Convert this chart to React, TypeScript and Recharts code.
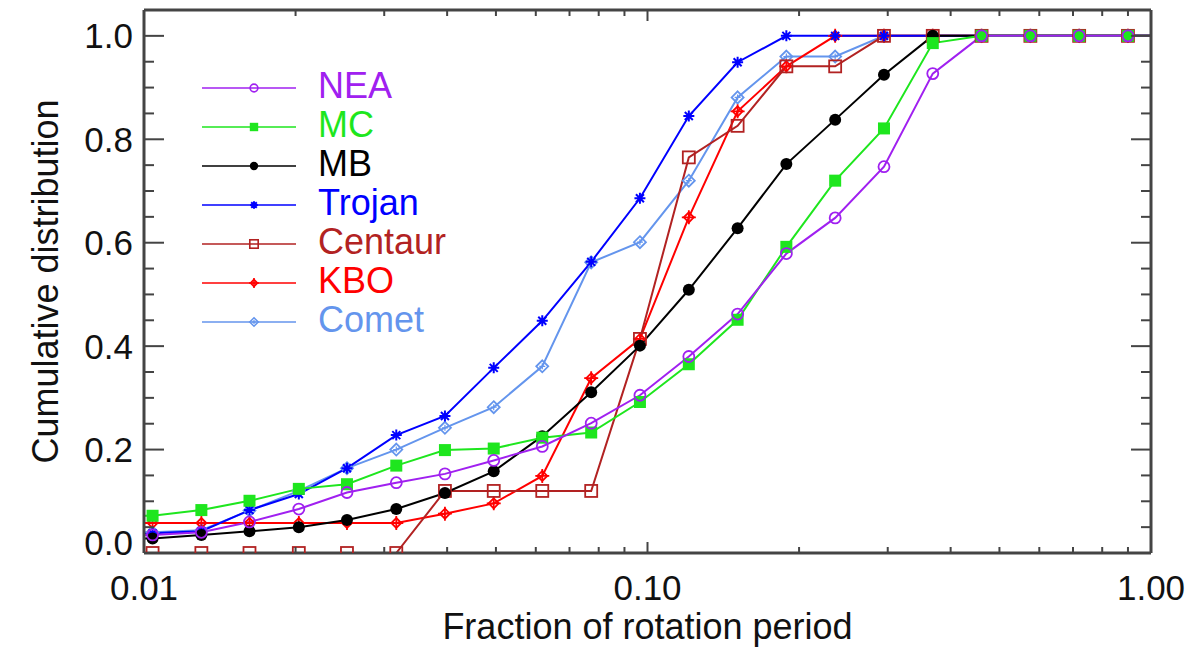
import { LineChart, Line, XAxis, YAxis, Legend } from "recharts";

// bin centres of the rotation-period fraction (first and last fall just outside the frame)
const PERIOD_FRACTION = [
  0.0083, 0.0104, 0.013, 0.0162, 0.0203, 0.0253, 0.0317, 0.0396, 0.0495, 0.0618, 0.0773, 0.0966,
  0.1208, 0.151, 0.1887, 0.2359, 0.2949, 0.3686, 0.4608, 0.576, 0.72, 0.9, 1.125,
];

const NEA = [
  0.035, 0.035, 0.04, 0.06, 0.085, 0.117, 0.136, 0.153, 0.179, 0.206, 0.251, 0.305, 0.38, 0.462,
  0.579, 0.648, 0.747, 0.927, 1, 1, 1, 1, 1,
];
const MC = [
  0.072, 0.072, 0.083, 0.101, 0.124, 0.133, 0.169, 0.199, 0.202, 0.223, 0.233, 0.292, 0.365, 0.451,
  0.592, 0.72, 0.821, 0.986, 1, 1, 1, 1, 1,
];
const MB = [
  0.028, 0.028, 0.035, 0.042, 0.05, 0.064, 0.085, 0.116, 0.158, 0.226, 0.311, 0.401, 0.509, 0.628,
  0.752, 0.838, 0.925, 1, 1, 1, 1, 1, 1,
];
const TROJAN = [
  0.038, 0.038, 0.042, 0.083, 0.114, 0.164, 0.228, 0.265, 0.358, 0.449, 0.563, 0.686, 0.845, 0.949,
  1, 1, 1, 1, 1, 1, 1, 1, 1,
];
const CENTAUR = [
  0, 0, 0, 0, 0, 0, 0, 0.12, 0.12, 0.12, 0.12, 0.414, 0.765, 0.826, 0.941, 0.941, 1, 1, 1, 1, 1, 1, 1,
];
const KBO = [
  0.058, 0.058, 0.058, 0.058, 0.058, 0.058, 0.058, 0.076, 0.096, 0.149, 0.338, 0.414, 0.649, 0.854,
  0.941, 1, 1, 1, 1, 1, 1, 1, 1,
];
const COMET = [
  0.04, 0.04, 0.044, 0.082, 0.12, 0.164, 0.2, 0.242, 0.282, 0.361, 0.562, 0.601, 0.72, 0.881, 0.96,
  0.96, 1, 1, 1, 1, 1, 1, 1,
];

const X_TICKS = [
  0.01, 0.02, 0.03, 0.04, 0.05, 0.06, 0.07, 0.08, 0.09, 0.1, 0.2, 0.3, 0.4, 0.5, 0.6, 0.7, 0.8, 0.9, 1,
];
const X_LABELS = [
  { v: 0.01, t: "0.01" },
  { v: 0.1, t: "0.10" },
  { v: 1, t: "1.00" },
];
const Y_TICKS = [
  0, 0.05, 0.1, 0.15, 0.2, 0.25, 0.3, 0.35, 0.4, 0.45, 0.5, 0.55, 0.6, 0.65, 0.7, 0.75, 0.8, 0.85, 0.9,
  0.95, 1,
];
const Y_LABELS = [
  { v: 0, t: "0.0" },
  { v: 0.2, t: "0.2" },
  { v: 0.4, t: "0.4" },
  { v: 0.6, t: "0.6" },
  { v: 0.8, t: "0.8" },
  { v: 1, t: "1.0" },
];

const SERIES = [
  { key: "NEA", values: NEA, color: "#a020f0", marker: "openCircle" },
  { key: "MC", values: MC, color: "#1ee61e", marker: "square" },
  { key: "MB", values: MB, color: "#000000", marker: "dot" },
  { key: "Trojan", values: TROJAN, color: "#0000ff", marker: "star" },
  { key: "Centaur", values: CENTAUR, color: "#b22222", marker: "openSquare" },
  { key: "KBO", values: KBO, color: "#ff0000", marker: "starDiamond" },
  { key: "Comet", values: COMET, color: "#6495ed", marker: "diamond" },
];

const chartData = PERIOD_FRACTION.map((x, i) => {
  const row: Record<string, number> = { x };
  SERIES.forEach((s) => {
    row[s.key] = s.values[i];
  });
  return row;
});

const FONT = "'Liberation Sans', Arial, Helvetica, sans-serif";
const AXIS = "#444";

const labelFor = (list: { v: number; t: string }[], v: number) =>
  list.find((l) => Math.abs(l.v - v) < 1e-9)?.t;

function Marker({ shape, color, cx, cy, s = 1 }: any) {
  const sw = 1.8 * Math.min(1, s + 0.2);
  switch (shape) {
    case "openCircle":
      return <circle cx={cx} cy={cy} r={5.5 * s} fill="none" stroke={color} strokeWidth={sw} />;
    case "square":
      return <rect x={cx - 6 * s} y={cy - 6 * s} width={12 * s} height={12 * s} fill={color} />;
    case "dot":
      return <circle cx={cx} cy={cy} r={6 * s} fill={color} />;
    case "openSquare":
      return (
        <rect x={cx - 6 * s} y={cy - 6 * s} width={12 * s} height={12 * s} fill="none" stroke={color} strokeWidth={sw} />
      );
    case "star": {
      const a = 5.5 * s;
      const b = 4 * s;
      return (
        <path
          d={`M${cx - a},${cy}L${cx + a},${cy}M${cx},${cy - a}L${cx},${cy + a}M${cx - b},${cy - b}L${cx + b},${cy + b}M${cx - b},${cy + b}L${cx + b},${cy - b}`}
          stroke={color}
          strokeWidth={2}
        />
      );
    }
    case "starDiamond": {
      const a = 5 * s;
      const p = 7 * s;
      return (
        <g>
          <path d={`M${cx},${cy - a}L${cx + a},${cy}L${cx},${cy + a}L${cx - a},${cy}Z`} fill="none" stroke={color} strokeWidth={sw} />
          <path d={`M${cx - p},${cy}L${cx + p},${cy}M${cx},${cy - p}L${cx},${cy + p}`} stroke={color} strokeWidth={sw} />
        </g>
      );
    }
    case "diamond": {
      const a = 6 * s;
      const p = 3 * s;
      return (
        <g>
          <path d={`M${cx},${cy - a}L${cx + a},${cy}L${cx},${cy + a}L${cx - a},${cy}Z`} fill="none" stroke={color} strokeWidth={sw} />
          <path d={`M${cx - p},${cy}L${cx + p},${cy}M${cx},${cy - p}L${cx},${cy + p}`} stroke={color} strokeWidth={1.2} />
        </g>
      );
    }
    default:
      return null;
  }
}

const makeDot = (shape: string, color: string) => (props: any) => {
  const { cx, cy, payload, index } = props;
  if (cx == null || cy == null || payload.x < 0.01 || payload.x > 1) return <g key={index} />;
  return (
    <g key={index}>
      <Marker shape={shape} color={color} cx={cx} cy={cy} />
    </g>
  );
};

const BottomTick = ({ x, y, payload }: any) => {
  const label = labelFor(X_LABELS, payload.value);
  return (
    <g>
      <line x1={x} y1={y} x2={x} y2={y - (label ? 11 : 6)} stroke={AXIS} strokeWidth={2} />
      {label && (
        <text x={x} y={y + 47} textAnchor="middle" fontSize={35} fontFamily={FONT} fill="#111">
          {label}
        </text>
      )}
    </g>
  );
};

const TopTick = ({ x, y, payload }: any) => {
  const label = labelFor(X_LABELS, payload.value);
  return <line x1={x} y1={y} x2={x} y2={y + (label ? 11 : 6)} stroke={AXIS} strokeWidth={2} />;
};

const LeftTick = ({ x, y, payload }: any) => {
  const label = labelFor(Y_LABELS, payload.value);
  return (
    <g>
      <line x1={x} y1={y} x2={x + (label ? 20 : 10)} y2={y} stroke={AXIS} strokeWidth={2} />
      {label && (
        <text
          x={x - 11}
          y={payload.value === 0 ? y + 2 : y + 12.5}
          textAnchor="end"
          fontSize={35}
          fontFamily={FONT}
          fill="#111"
        >
          {label}
        </text>
      )}
    </g>
  );
};

const RightTick = ({ x, y, payload }: any) => {
  const label = labelFor(Y_LABELS, payload.value);
  return <line x1={x} y1={y} x2={x - (label ? 20 : 10)} y2={y} stroke={AXIS} strokeWidth={2} />;
};

function LegendBox() {
  return (
    <svg width={300} height={310} style={{ display: "block", overflow: "visible" }}>
      {SERIES.map((s, i) => {
        const y = 35 + i * 39;
        return (
          <g key={s.key}>
            <line x1={0} y1={y} x2={94} y2={y} stroke={s.color} strokeWidth={1.6} />
            <Marker shape={s.marker} color={s.color} cx={52} cy={y} s={0.7} />
            <text x={116} y={y + 9.5} fontSize={36} fontFamily={FONT} fill={s.color}>
              {s.key}
            </text>
          </g>
        );
      })}
    </svg>
  );
}

export default function App() {
  return (
    <div style={{ width: 1192, height: 649, background: "#fff" }}>
      <LineChart width={1192} height={649} data={chartData} margin={{ top: 0, right: 0, bottom: 0, left: 0 }}>
        <XAxis
          dataKey="x"
          type="number"
          scale="log"
          domain={[0.01, 1]}
          allowDataOverflow
          ticks={X_TICKS}
          interval={0}
          height={104}
          tickSize={0}
          tickMargin={0}
          tickLine={false}
          tick={<BottomTick />}
          axisLine={{ stroke: AXIS, strokeWidth: 3 }}
          label={{
            value: "Fraction of rotation period",
            position: "insideBottom",
            offset: 18,
            fontSize: 36,
            fontFamily: FONT,
            fill: "#111",
          }}
        />
        <XAxis
          xAxisId="top"
          orientation="top"
          dataKey="x"
          type="number"
          scale="log"
          domain={[0.01, 1]}
          allowDataOverflow
          ticks={X_TICKS}
          interval={0}
          height={2}
          tickSize={0}
          tickMargin={0}
          tickLine={false}
          tick={<TopTick />}
          axisLine={{ stroke: AXIS, strokeWidth: 3 }}
        />
        <YAxis
          type="number"
          domain={[0, 1.05]}
          allowDataOverflow
          ticks={Y_TICKS}
          interval={0}
          width={136}
          tickSize={0}
          tickMargin={0}
          tickLine={false}
          tick={<LeftTick />}
          axisLine={{ stroke: AXIS, strokeWidth: 3 }}
          label={{
            value: "Cumulative distribution",
            angle: -90,
            position: "insideLeft",
            offset: 37,
            textAnchor: "middle",
            fontSize: 36,
            fontFamily: FONT,
            fill: "#111",
          }}
        />
        <YAxis
          yAxisId="right"
          orientation="right"
          type="number"
          domain={[0, 1.05]}
          allowDataOverflow
          ticks={Y_TICKS}
          interval={0}
          width={49}
          tickSize={0}
          tickMargin={0}
          tickLine={false}
          tick={<RightTick />}
          axisLine={{ stroke: AXIS, strokeWidth: 3 }}
        />
        {[...SERIES].reverse().map((s) => (
          <Line
            key={s.key}
            type="linear"
            dataKey={s.key}
            name={s.key}
            stroke={s.color}
            strokeWidth={2}
            dot={makeDot(s.marker, s.color)}
            activeDot={false}
            isAnimationActive={false}
          />
        ))}
        <Legend
          layout="vertical"
          align="center"
          verticalAlign="middle"
          wrapperStyle={{ top: 44.5, left: 194, width: 300, height: 310 }}
          content={() => <LegendBox />}
        />
      </LineChart>
    </div>
  );
}
